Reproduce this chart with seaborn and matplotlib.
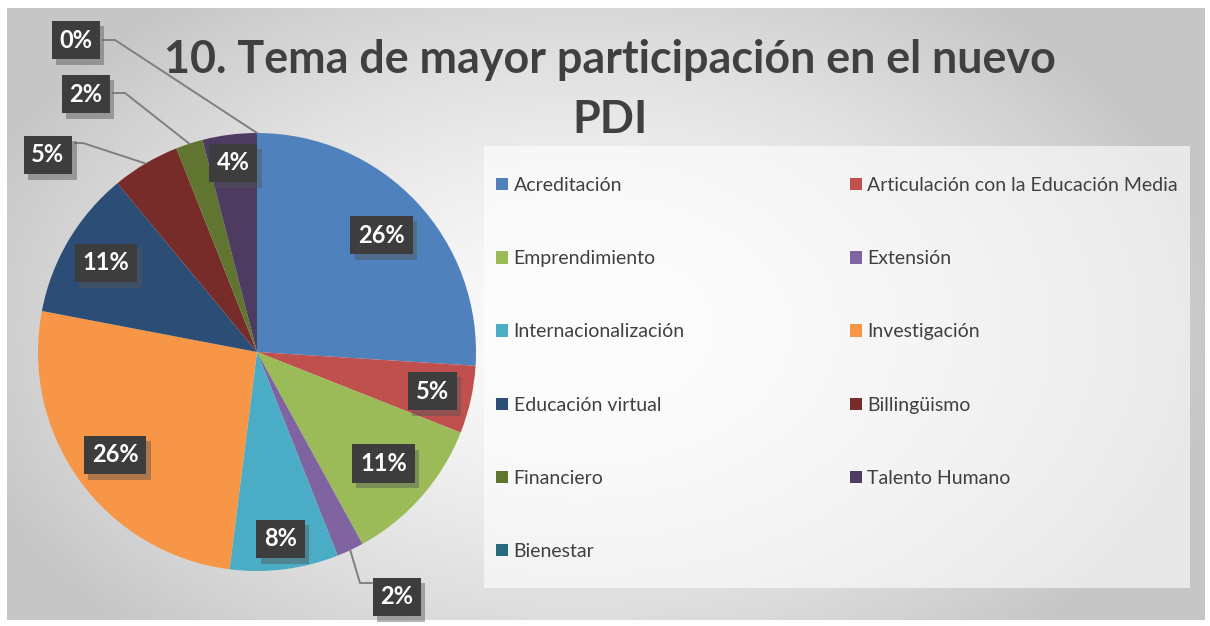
import numpy as np
import matplotlib
matplotlib.use("Agg")
import matplotlib.pyplot as plt
import matplotlib.patheffects as pe
from matplotlib.patches import Rectangle
import seaborn as sns

# ---------------- data ----------------
categories = ["Acreditación", "Articulación con la Educación Media", "Emprendimiento",
              "Extensión", "Internacionalización", "Investigación", "Educación virtual",
              "Billingüismo", "Financiero", "Talento Humano", "Bienestar"]
percentages = [26, 5, 11, 2, 8, 26, 11, 5, 2, 4, 0]
title_line1 = "10. Tema de mayor participación en el nuevo"
title_line2 = "PDI"

colors = ["#4F81BD", "#C0504D", "#9BBB59", "#8064A2", "#4BACC6", "#F79646",
          "#2C4D75", "#772C2A", "#5F7530", "#4D3B62", "#276A7C"]

sns.set_theme(style="white")
palette = sns.color_palette(colors)
plt.rcParams["font.family"] = ["Lato", "DejaVu Sans"]

W, H = 1210, 626
fig = plt.figure(figsize=(W / 100, H / 100), dpi=100)
fig.patch.set_facecolor("white")
ax = fig.add_axes([0, 0, 1, 1])


def P(x, y):
    """pixel (top-left origin) -> data coords (y up)"""
    return x, H - y


# background radial gradient of chart area
gx0, gx1, gy0, gy1 = 7, 1205, 8, 620
xs = np.linspace(gx0, gx1, 400)
ys = np.linspace(gy0, gy1, 220)
XX, YY = np.meshgrid(xs, ys)
cx, cy = 580, 330
d = np.sqrt(((XX - cx) / 640) ** 2 + ((YY - cy) / 420) ** 2)
val = 0.985 - 0.205 * np.clip(d, 0, 1.0) ** 1.5
img = np.dstack([val, val, val])
ax.imshow(img, extent=(gx0, gx1, H - gy1, H - gy0), origin="upper", zorder=0,
          interpolation="bilinear", aspect="auto")

# ---------------- pie ----------------
pcx, pcy = P(257, 352)
R = 219
wedges, _ = ax.pie(percentages, colors=palette, startangle=90, counterclock=False,
                   center=(pcx, pcy), radius=R, wedgeprops=dict(linewidth=0))
for w in wedges:
    w.set_zorder(2)

ax.set_xlim(0, W)
ax.set_ylim(0, H)
ax.set_aspect("auto")
ax.axis("off")

# ---------------- data labels ----------------
inside_r = {0: 0.78, 1: 0.82, 2: 0.77, 4: 0.86, 5: 0.80, 6: 0.80, 9: 0.87}
# outside labels: box center offset (px, relative to pie center, y up) and leader-line kink
outside = {
    3: dict(box=(140, -245), kink=(103, -231), attach=(115, -231)),
    7: dict(box=(-209, 197), kink=(-174, 209), attach=(-182, 209)),
    8: dict(box=(-171, 258), kink=(-132, 259), attach=(-144, 259)),
    10: dict(box=(-181, 312), kink=(-142, 312), attach=(-154, 312)),
}

box_kw = dict(boxstyle="square,pad=0.33", facecolor="#3d3d3d", edgecolor="none")
shadow = [pe.SimplePatchShadow(offset=(3, -4), alpha=0.45, shadow_rgbFace="#555555"), pe.Normal()]


def draw_label(x, y, s):
    t = ax.text(x, y, s, ha="center", va="center", color="white", fontsize=17,
                fontweight="bold", bbox=box_kw, zorder=6)
    t.get_bbox_patch().set_path_effects(shadow)
    return t


for i, (w, p) in enumerate(zip(wedges, percentages)):
    ang = np.deg2rad((w.theta1 + w.theta2) / 2)
    lab = f"{p}%"
    if i in inside_r:
        r = inside_r[i] * R
        draw_label(pcx + r * np.cos(ang), pcy + r * np.sin(ang), lab)
    else:
        o = outside[i]
        ex, ey = pcx + R * np.cos(ang), pcy + R * np.sin(ang)
        kx, ky = pcx + o["kink"][0], pcy + o["kink"][1]
        axx, ayy = pcx + o["attach"][0], pcy + o["attach"][1]
        ax.plot([ex, kx, axx], [ey, ky, ayy], color="#7f7f7f", lw=1.4, zorder=4,
                solid_joinstyle="miter")
        draw_label(pcx + o["box"][0], pcy + o["box"][1], lab)

# ---------------- title ----------------
ax.text(610, H - 60, title_line1, ha="center", va="center",
        fontsize=32.3, fontweight="bold", color="#404040", zorder=5)
ax.text(610, H - 120, title_line2, ha="center", va="center",
        fontsize=32.3, fontweight="bold", color="#404040", zorder=5)

# ---------------- legend ----------------
lx0, ly0, lx1, ly1 = 484, 146, 1190, 588
ax.add_patch(Rectangle((lx0, H - ly1), lx1 - lx0, ly1 - ly0, facecolor="white",
                       alpha=0.6, edgecolor="none", zorder=1))
order = [0, 2, 4, 6, 8, 10, 1, 3, 5, 7, 9]
handles = [Rectangle((0, 0), 1, 1, facecolor=colors[i], edgecolor="none") for i in order]
labels = [categories[i] for i in order]
leg = ax.legend(handles, labels, ncol=2, loc="upper left",
                bbox_to_anchor=(496 / W, 1 - 177 / H), bbox_transform=fig.transFigure,
                frameon=False, fontsize=14, handlelength=0.6, handleheight=0.6,
                handletextpad=0.3, labelspacing=2.89, columnspacing=8.5,
                borderpad=0, borderaxespad=0)
for t in leg.get_texts():
    t.set_color("#404040")
leg.set_zorder(5)

fig.savefig("out.png", dpi=100, facecolor="white")
